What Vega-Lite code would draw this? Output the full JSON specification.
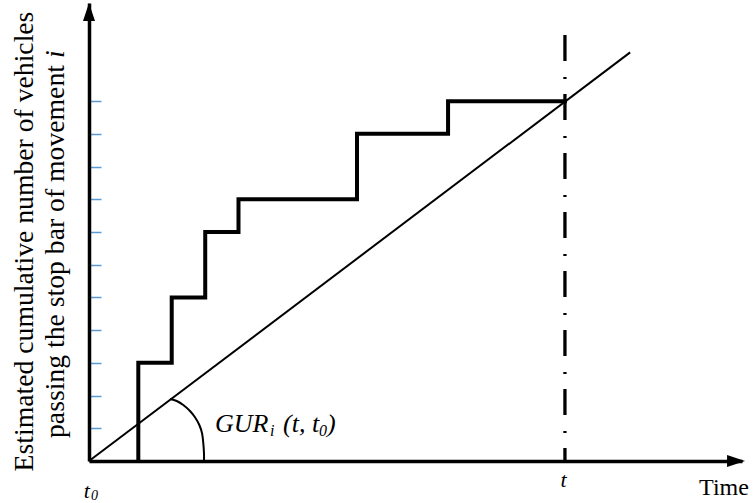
{
  "$schema": "https://vega.github.io/schema/vega-lite/v6.json",
  "width": 653,
  "height": 458,
  "autosize": "none",
  "padding": {"left": 89, "top": 3, "right": 11, "bottom": 42},
  "background": "white",
  "config": {"view": {"stroke": null}},
  "datasets": {
    "diag": [{"x": 0, "y": 0}, {"x": 11.37, "y": 12.49}],
    "steps": [
      {"x": 1.036, "y": 0},
      {"x": 1.738, "y": 3},
      {"x": 2.442, "y": 5},
      {"x": 3.141, "y": 7},
      {"x": 5.631, "y": 8},
      {"x": 7.544, "y": 10},
      {"x": 10, "y": 11}
    ],
    "arc": [
      {"i": 0, "x": 1.702, "y": 1.895},
      {"i": 1, "x": 1.843, "y": 1.834},
      {"i": 2, "x": 1.981, "y": 1.712},
      {"i": 3, "x": 2.122, "y": 1.528},
      {"i": 4, "x": 2.227, "y": 1.336},
      {"i": 5, "x": 2.318, "y": 1.1},
      {"i": 6, "x": 2.375, "y": 0.847},
      {"i": 7, "x": 2.402, "y": 0.541},
      {"i": 8, "x": 2.416, "y": 0.235},
      {"i": 9, "x": 2.416, "y": 0}
    ],
    "tline": [{"x": 10, "y": 13.02, "y2": 0}],
    "arrowUp": [{"x": 0, "y": 13.725}],
    "arrowRight": [{"x": 13.595, "y": 0}],
    "tlabels": [
      {"label": "t", "x": -0.048, "y": -1.122},
      {"label": "t", "x": 9.97, "y": -0.795}
    ],
    "tsub": [{"label": "0", "x": 0.04, "y": -1.2}],
    "timelabel": [{"label": "Time", "x": 12.818, "y": -1.039}],
    "gur": [
      {"label": "GUR", "x": 2.648, "y": 0.886},
      {"label": "(t, t", "x": 4.076, "y": 0.886},
      {"label": ")", "x": 5.0, "y": 0.886}
    ],
    "gursub": [
      {"label": "i", "x": 3.803, "y": 0.764},
      {"label": "0", "x": 4.833, "y": 0.764}
    ],
    "ytitle1": [{"label": "Estimated cumulative number of vehicles", "x": -1.177, "y": 6.71}],
    "ytitle2": [{"label": "passing the stop bar of movement", "x": -0.534, "y": 0.703}],
    "ytitle2i": [{"label": "i", "x": -0.534, "y": 12.32}]
  },
  "layer": [
    {
      "data": {"name": "diag"},
      "mark": {"type": "line", "color": "black", "strokeWidth": 2},
      "encoding": {
        "x": {
          "field": "x", "type": "quantitative",
          "scale": {"domain": [0, 13.72], "nice": false, "zero": false},
          "axis": {"title": null, "labels": false, "ticks": false, "grid": false, "domainColor": "black", "domainWidth": 3.5}
        },
        "y": {
          "field": "y", "type": "quantitative",
          "scale": {"domain": [0, 14], "nice": false, "zero": false},
          "axis": {"title": null, "labels": false, "grid": false, "values": [1, 2, 3, 4, 5, 6, 7, 8, 9, 10, 11], "tickSize": -12, "tickColor": "#5b9bd5", "tickWidth": 1.5, "domainColor": "black", "domainWidth": 3.5}
        }
      }
    },
    {
      "data": {"name": "arc"},
      "mark": {"type": "line", "color": "black", "strokeWidth": 2, "interpolate": "cardinal"},
      "encoding": {
        "x": {"field": "x", "type": "quantitative"},
        "y": {"field": "y", "type": "quantitative"},
        "order": {"field": "i", "type": "quantitative"}
      }
    },
    {
      "data": {"name": "tline"},
      "mark": {"type": "rule", "color": "black", "strokeWidth": 3.3, "strokeDash": [26, 16, 2, 15]},
      "encoding": {
        "x": {"field": "x", "type": "quantitative"},
        "y": {"field": "y", "type": "quantitative"},
        "y2": {"field": "y2"}
      }
    },
    {
      "data": {"name": "steps"},
      "mark": {"type": "line", "color": "black", "strokeWidth": 4, "interpolate": "step-before", "strokeJoin": "miter", "strokeCap": "square"},
      "encoding": {
        "x": {"field": "x", "type": "quantitative"},
        "y": {"field": "y", "type": "quantitative"}
      }
    },
    {
      "data": {"name": "arrowUp"},
      "mark": {"type": "point", "shape": "M0,-0.9L0.6,0.9L-0.6,0.9Z", "filled": true, "color": "black", "opacity": 1, "size": 400, "strokeWidth": 0},
      "encoding": {
        "x": {"field": "x", "type": "quantitative"},
        "y": {"field": "y", "type": "quantitative"}
      }
    },
    {
      "data": {"name": "arrowRight"},
      "mark": {"type": "point", "shape": "M0.9,0L-0.9,-0.6L-0.9,0.6Z", "filled": true, "color": "black", "opacity": 1, "size": 400, "strokeWidth": 0},
      "encoding": {
        "x": {"field": "x", "type": "quantitative"},
        "y": {"field": "y", "type": "quantitative"}
      }
    },
    {
      "data": {"name": "tlabels"},
      "mark": {"type": "text", "font": "Liberation Serif", "fontSize": 22, "fontStyle": "italic", "align": "center", "baseline": "alphabetic", "color": "black"},
      "encoding": {
        "x": {"field": "x", "type": "quantitative"},
        "y": {"field": "y", "type": "quantitative"},
        "text": {"field": "label"}
      }
    },
    {
      "data": {"name": "tsub"},
      "mark": {"type": "text", "font": "Liberation Serif", "fontSize": 14, "fontStyle": "italic", "align": "left", "baseline": "alphabetic", "color": "black"},
      "encoding": {
        "x": {"field": "x", "type": "quantitative"},
        "y": {"field": "y", "type": "quantitative"},
        "text": {"field": "label"}
      }
    },
    {
      "data": {"name": "timelabel"},
      "mark": {"type": "text", "font": "Liberation Serif", "fontSize": 24, "align": "left", "baseline": "alphabetic", "color": "black"},
      "encoding": {
        "x": {"field": "x", "type": "quantitative"},
        "y": {"field": "y", "type": "quantitative"},
        "text": {"field": "label"}
      }
    },
    {
      "data": {"name": "gur"},
      "mark": {"type": "text", "font": "Liberation Serif", "fontSize": 26, "fontStyle": "italic", "align": "left", "baseline": "alphabetic", "color": "black"},
      "encoding": {
        "x": {"field": "x", "type": "quantitative"},
        "y": {"field": "y", "type": "quantitative"},
        "text": {"field": "label"}
      }
    },
    {
      "data": {"name": "gursub"},
      "mark": {"type": "text", "font": "Liberation Serif", "fontSize": 16, "fontStyle": "italic", "align": "left", "baseline": "alphabetic", "color": "black"},
      "encoding": {
        "x": {"field": "x", "type": "quantitative"},
        "y": {"field": "y", "type": "quantitative"},
        "text": {"field": "label"}
      }
    },
    {
      "data": {"name": "ytitle1"},
      "mark": {"type": "text", "font": "Liberation Serif", "fontSize": 27.7, "align": "center", "baseline": "alphabetic", "angle": 270, "color": "black"},
      "encoding": {
        "x": {"field": "x", "type": "quantitative"},
        "y": {"field": "y", "type": "quantitative"},
        "text": {"field": "label"}
      }
    },
    {
      "data": {"name": "ytitle2"},
      "mark": {"type": "text", "font": "Liberation Serif", "fontSize": 27.7, "align": "left", "baseline": "alphabetic", "angle": 270, "color": "black"},
      "encoding": {
        "x": {"field": "x", "type": "quantitative"},
        "y": {"field": "y", "type": "quantitative"},
        "text": {"field": "label"}
      }
    },
    {
      "data": {"name": "ytitle2i"},
      "mark": {"type": "text", "font": "Liberation Serif", "fontSize": 27.7, "fontStyle": "italic", "align": "left", "baseline": "alphabetic", "angle": 270, "color": "black"},
      "encoding": {
        "x": {"field": "x", "type": "quantitative"},
        "y": {"field": "y", "type": "quantitative"},
        "text": {"field": "label"}
      }
    }
  ]
}
